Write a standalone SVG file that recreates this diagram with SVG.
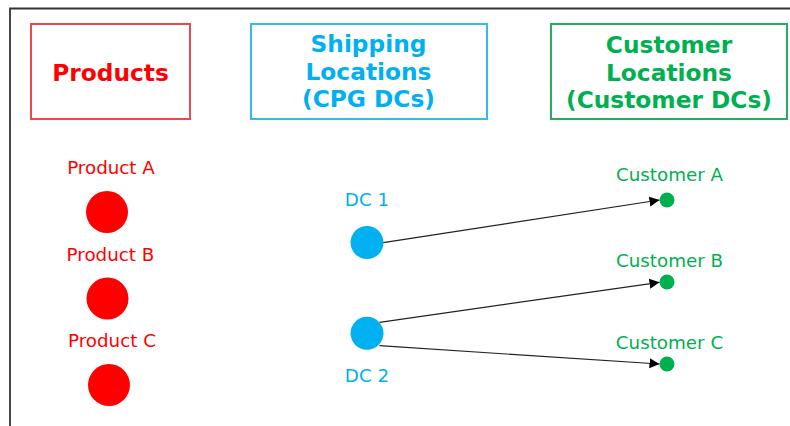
<svg xmlns="http://www.w3.org/2000/svg" width="790" height="426" viewBox="0 0 790 426">
<style>
.hdr{font-family:"DejaVu Sans",Verdana,sans-serif;font-weight:bold;font-size:23.3px;text-anchor:middle}
.lbl{font-family:"DejaVu Sans",Verdana,sans-serif;font-size:18.3px;text-anchor:middle}
.red{fill:#FF0000}
.blue{fill:#00B0F0}
.green{fill:#00B050}
.box{fill:#FFFFFF;stroke-width:2}
.edge{stroke:#222222;stroke-width:1.2;fill:none;marker-end:url(#arr)}
</style>
<defs>
<marker id="arr" viewBox="0 0 10 10" refX="10" refY="5" markerWidth="10" markerHeight="12" markerUnits="userSpaceOnUse" orient="auto">
<path d="M0,0 L10,5 L0,10 Z" fill="#000000"/>
</marker>
</defs>
<rect width="790" height="426" fill="#FFFFFF"/>
<path d="M10,426 V8.5 H790" fill="none" stroke="#333333" stroke-width="1.8"/>
<g id="hdr-products">
<rect class="box" x="31" y="24" width="159" height="95" stroke="#F04848"/>
<text class="hdr red" x="110.5" y="80.5">Products</text>
</g>
<g id="hdr-shipping">
<rect class="box" x="251" y="24" width="236" height="95" stroke="#33BBEE"/>
<text class="hdr blue" x="368.5" y="52">Shipping</text>
<text class="hdr blue" x="368.5" y="80">Locations</text>
<text class="hdr blue" x="368.5" y="107">(CPG DCs)</text>
</g>
<g id="hdr-customer">
<rect class="box" x="551" y="24" width="236" height="95" stroke="#22B060"/>
<text class="hdr green" x="669" y="52.5">Customer</text>
<text class="hdr green" x="669" y="80.5">Locations</text>
<text class="hdr green" x="669" y="107.5">(Customer DCs)</text>
</g>
<g id="product-a">
<text class="lbl red" x="111" y="174">Product A</text>
<circle class="red" cx="107" cy="212" r="21"/>
</g>
<g id="product-b">
<text class="lbl red" x="110.5" y="260.5">Product B</text>
<circle class="red" cx="107.5" cy="298.5" r="21"/>
</g>
<g id="product-c">
<text class="lbl red" x="112" y="347">Product C</text>
<circle class="red" cx="109" cy="385" r="21"/>
</g>
<g id="dc-1">
<text class="lbl blue" x="367" y="206">DC 1</text>
<circle class="blue" cx="367" cy="242.5" r="16.5"/>
</g>
<g id="dc-2">
<circle class="blue" cx="367" cy="333.3" r="16.5"/>
<text class="lbl blue" x="367" y="381.5">DC 2</text>
</g>
<g id="customer-a">
<text class="lbl green" x="669.5" y="180.5">Customer A</text>
<circle class="green" cx="667" cy="200" r="7.5"/>
</g>
<g id="customer-b">
<text class="lbl green" x="669.5" y="266.5">Customer B</text>
<circle class="green" cx="667" cy="282" r="7.5"/>
</g>
<g id="customer-c">
<text class="lbl green" x="669.5" y="348.5">Customer C</text>
<circle class="green" cx="667" cy="364" r="7.5"/>
</g>
<g id="connectors">
<line class="edge" x1="383.3" y1="242.7" x2="659.5" y2="200"/>
<line class="edge" x1="379.5" y1="322.3" x2="659.5" y2="282.3"/>
<line class="edge" x1="379.5" y1="345.7" x2="659.5" y2="364"/>
</g>
</svg>
